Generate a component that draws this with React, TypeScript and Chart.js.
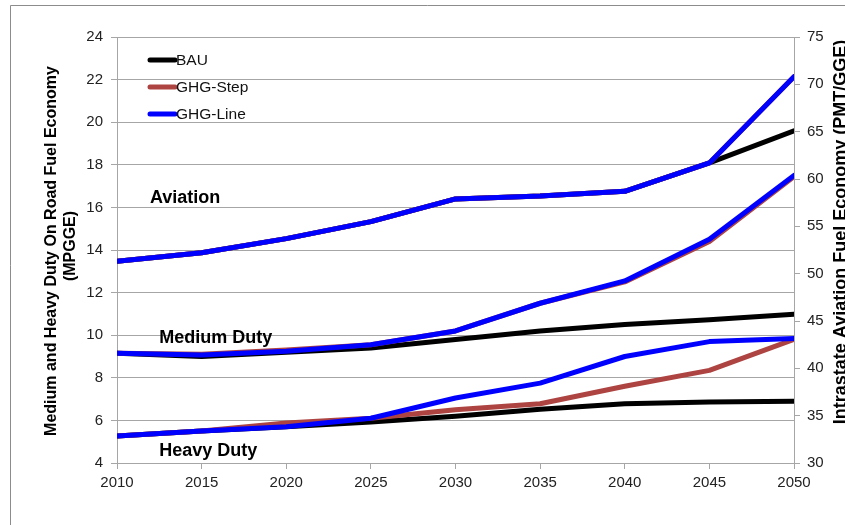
import React, { useEffect, useRef } from 'react';
import { Chart, registerables } from 'chart.js';

Chart.register(...registerables);

const years = [2010, 2015, 2020, 2025, 2030, 2035, 2040, 2045, 2050];

// Aviation (right axis, PMT/GGE)
const aviationBAU = [51.3, 52.2, 53.7, 55.5, 57.9, 58.2, 58.7, 61.7, 65.1];
const aviationStep = [51.3, 52.2, 53.7, 55.5, 57.9, 58.2, 58.7, 61.7, 70.8];
const aviationLine = [51.3, 52.2, 53.7, 55.5, 57.9, 58.2, 58.7, 61.7, 70.8];

// Medium Duty (left axis, MPGGE)
const mediumBAU = [9.15, 9.0, 9.2, 9.4, 9.8, 10.2, 10.5, 10.72, 10.98];
const mediumStep = [9.15, 9.1, 9.3, 9.55, 10.2, 11.5, 12.5, 14.4, 17.45];
const mediumLine = [9.15, 9.07, 9.25, 9.55, 10.2, 11.5, 12.55, 14.5, 17.5];

// Heavy Duty (left axis, MPGGE)
const heavyBAU = [5.27, 5.5, 5.7, 5.92, 6.2, 6.52, 6.78, 6.86, 6.9];
const heavyStep = [5.27, 5.5, 5.88, 6.1, 6.5, 6.78, 7.6, 8.35, 9.8];
const heavyLine = [5.27, 5.5, 5.7, 6.1, 7.05, 7.75, 9.0, 9.7, 9.85];

const seriesNames = ['BAU', 'GHG-Step', 'GHG-Line'];
const seriesColors = ['#000000', '#AD4441', '#0000FF'];

const groupLabels = ['Aviation', 'Medium Duty', 'Heavy Duty'];
const groupLabelYears = [2011.95, 2012.5, 2012.5];
const groupLabelValues = [16.44, 9.85, 4.55];

const leftTitle1 = 'Medium and Heavy Duty On Road Fuel Economy';
const leftTitle2 = '(MPGGE)';
const rightTitle = 'Intrastate Aviation Fuel Economy (PMT/GGE)';

const FONT = '"Liberation Sans", Arial, sans-serif';
const GRID = '#A6A6A6';

const toXY = (vals: number[]) => vals.map((v, i) => ({ x: years[i], y: v }));

export default function App() {
  const ref = useRef<HTMLCanvasElement | null>(null);

  useEffect(() => {
    document.body.style.margin = '0';
    const canvas = ref.current;
    if (!canvas) return;

    const mk = (data: number[], s: number, axis: string) => ({
      label: seriesNames[s],
      data: toXY(data),
      borderColor: seriesColors[s],
      backgroundColor: seriesColors[s],
      borderWidth: 5,
      pointRadius: 0,
      tension: 0,
      fill: false,
      yAxisID: axis,
      order: 2 - s,
      borderCapStyle: 'round' as const,
      borderJoinStyle: 'round' as const,
    });

    const overlay = {
      id: 'overlay',
      afterDraw(chart: any) {
        const ctx = chart.ctx as CanvasRenderingContext2D;
        const ca = chart.chartArea;
        const xs = chart.scales.x;
        const ys = chart.scales.y;
        ctx.save();
        // outer frame (top and left visible)
        ctx.strokeStyle = '#8C8C8C';
        ctx.lineWidth = 1;
        ctx.beginPath();
        ctx.moveTo(10.5, 525);
        ctx.lineTo(10.5, 5.5);
        ctx.lineTo(845, 5.5);
        ctx.stroke();

        // legend
        ctx.font = `15.5px ${FONT}`;
        ctx.textBaseline = 'middle';
        ctx.textAlign = 'left';
        for (let i = 0; i < seriesNames.length; i++) {
          const y = ca.top + 23 + i * 27;
          const x0 = ca.left + 33;
          ctx.strokeStyle = seriesColors[i];
          ctx.lineWidth = 5;
          ctx.lineCap = 'round';
          ctx.beginPath();
          ctx.moveTo(x0, y);
          ctx.lineTo(x0 + 25, y);
          ctx.stroke();
          ctx.fillStyle = '#111';
          ctx.fillText(seriesNames[i], x0 + 26, y + 1);
        }

        // group labels
        ctx.font = `bold 18px ${FONT}`;
        ctx.fillStyle = '#000';
        for (let i = 0; i < groupLabels.length; i++) {
          ctx.fillText(
            groupLabels[i],
            xs.getPixelForValue(groupLabelYears[i]),
            ys.getPixelForValue(groupLabelValues[i])
          );
        }

        // axis titles
        ctx.textAlign = 'center';
        ctx.fillStyle = '#000';
        const cy = (ca.top + ca.bottom) / 2;
        ctx.font = `bold 16px ${FONT}`;
        ctx.save();
        ctx.translate(52, cy + 1);
        ctx.rotate(-Math.PI / 2);
        ctx.fillText(leftTitle1, 0, 0);
        ctx.restore();
        ctx.save();
        ctx.translate(71, cy - 4);
        ctx.rotate(-Math.PI / 2);
        ctx.fillText(leftTitle2, 0, 0);
        ctx.restore();
        ctx.font = `bold 18px ${FONT}`;
        ctx.save();
        ctx.translate(841, cy - 18);
        ctx.rotate(-Math.PI / 2);
        ctx.fillText(rightTitle, 0, 0);
        ctx.restore();

        ctx.restore();
      },
    };

    const chart = new Chart(canvas, {
      type: 'line',
      data: {
        datasets: [
          mk(aviationBAU, 0, 'y1'),
          mk(mediumBAU, 0, 'y'),
          mk(heavyBAU, 0, 'y'),
          mk(aviationStep, 1, 'y1'),
          mk(mediumStep, 1, 'y'),
          mk(heavyStep, 1, 'y'),
          mk(aviationLine, 2, 'y1'),
          mk(mediumLine, 2, 'y'),
          mk(heavyLine, 2, 'y'),
        ],
      },
      options: {
        responsive: false,
        animation: false,
        layout: { padding: { top: 37, left: 0, right: 0, bottom: 0 } },
        plugins: {
          legend: { display: false },
          tooltip: { enabled: false },
        },
        scales: {
          x: {
            type: 'linear',
            min: 2010,
            max: 2050,
            ticks: {
              stepSize: 5,
              callback: (v: any) => String(v),
              font: { family: FONT, size: 15 },
              color: '#222',
              padding: 5,
              maxRotation: 0,
            },
            grid: { drawOnChartArea: false, drawTicks: true, tickLength: 6, color: GRID },
            border: { color: GRID },
            afterFit: (s: any) => { s.height = 62; },
          },
          y: {
            position: 'left',
            min: 4,
            max: 24,
            ticks: {
              stepSize: 2,
              font: { family: FONT, size: 15 },
              color: '#222',
              padding: 8,
            },
            grid: { color: GRID, tickLength: 6 },
            border: { color: GRID },
            afterFit: (s: any) => { s.width = 117; },
          },
          y1: {
            position: 'right',
            min: 30,
            max: 75,
            ticks: {
              stepSize: 5,
              font: { family: FONT, size: 15 },
              color: '#222',
              padding: 7,
            },
            grid: { drawOnChartArea: false, color: GRID, tickLength: 6 },
            border: { color: GRID },
            afterFit: (s: any) => { s.width = 51; },
          },
        },
      },
      plugins: [overlay],
    } as any);

    return () => chart.destroy();
  }, []);

  return (
    <div style={{ width: 845, height: 525, background: '#fff' }}>
      <canvas ref={ref} width={845} height={525} style={{ width: 845, height: 525, display: 'block' }} />
    </div>
  );
}
